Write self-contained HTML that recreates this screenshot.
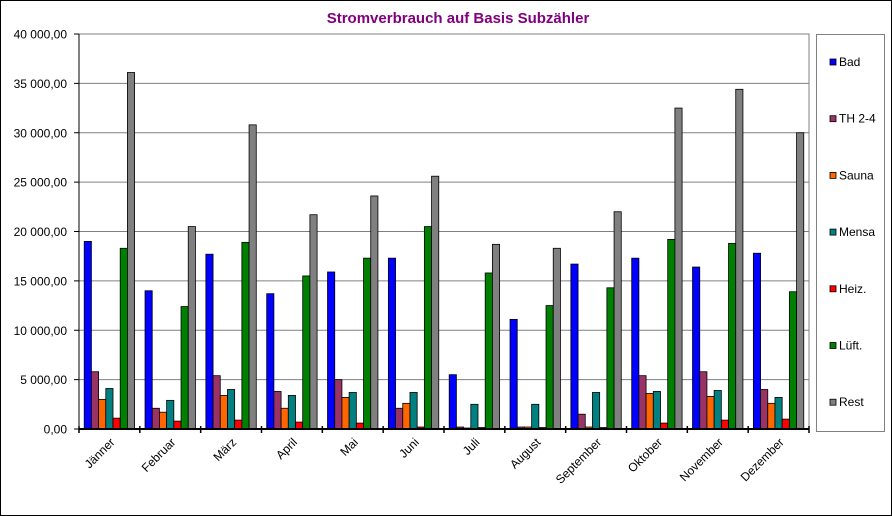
<!DOCTYPE html>
<html><head><meta charset="utf-8"><style>
html,body{margin:0;padding:0;background:#fff}
svg{display:block;font-family:"Liberation Sans",Arial,sans-serif}
</style></head><body>
<svg id="c" width="892" height="516" viewBox="0 0 892 516" xmlns="http://www.w3.org/2000/svg">
<rect x="0.5" y="0.5" width="891" height="515" fill="#fff" stroke="#000"/>
<text x="458" y="23" text-anchor="middle" font-size="15" font-weight="bold" fill="#800080">Stromverbrauch auf Basis Subzähler</text>
<g id="g"></g>
</svg>
<script>
var g=document.getElementById('g'),s='';
var X0=79,X1=809,Y0=429,H=395,gw=(X1-X0)/12;
function y(v){return Y0-v/40000*H;}
s+='<rect x="'+X0+'" y="34" width="'+(X1-X0)+'" height="'+H+'" fill="#fff" stroke="#808080"/>';
for(var i=0;i<=8;i++){var yy=y(i*5000);
 if(i>0&&i<8)s+='<line x1="'+X0+'" x2="'+X1+'" y1="'+yy+'" y2="'+yy+'" stroke="#808080"/>';
 s+='<line x1="'+(X0-5)+'" x2="'+X0+'" y1="'+yy+'" y2="'+yy+'" stroke="#000"/>';
 var lab=i==0?'0,00':(i*5)+' 000,00';
 s+='<text x="67" y="'+(yy+4.5)+'" text-anchor="end" font-size="12">'+lab+'</text>';}
var cols=['#0000FF','#993366','#FF6600','#008080','#FF0000','#008000','#808080'];
var names=['Bad','TH 2-4','Sauna','Mensa','Heiz.','Lüft.','Rest'];
var months=['Jänner','Februar','März','April','Mai','Juni','Juli','August','September','Oktober','November','Dezember'];
var d=[[19000,5800,3000,4100,1100,18300,36100],[14000,2100,1700,2900,800,12400,20500],[17700,5400,3400,4000,900,18900,30800],[13700,3800,2100,3400,700,15500,21700],[15900,5000,3200,3700,600,17300,23600],[17300,2100,2600,3700,200,20500,25600],[5500,200,100,2500,150,15800,18700],[11100,200,200,2500,150,12500,18300],[16700,1500,200,3700,150,14300,22000],[17300,5400,3600,3800,600,19200,32500],[16400,5800,3300,3900,900,18800,34400],[17800,4000,2600,3200,1000,13900,30000]];
var bw=7.2;
for(var m=0;m<12;m++){var gx=X0+m*gw+5.2;
 for(var k=0;k<7;k++){var v=d[m][k],t=y(v);
  s+='<rect x="'+(gx+k*bw)+'" y="'+t+'" width="'+bw+'" height="'+(Y0-t)+'" fill="'+cols[k]+'" stroke="#000" stroke-width="0.8"/>';}
 var tx=X0+m*gw;
 s+='<line x1="'+tx+'" x2="'+tx+'" y1="'+(Y0-3)+'" y2="'+(Y0+4)+'" stroke="#000" stroke-width="1.5"/>';
 var cx=tx+gw/2+6;
 s+='<text transform="translate('+cx+','+(Y0+14)+') rotate(-45)" text-anchor="end" font-size="12">'+months[m]+'</text>';}
s+='<line x1="'+X1+'" x2="'+X1+'" y1="'+(Y0-3)+'" y2="'+(Y0+4)+'" stroke="#000" stroke-width="1.5"/>';
s+='<line x1="'+X0+'" x2="'+X1+'" y1="'+Y0+'" y2="'+Y0+'" stroke="#000" stroke-width="2"/>';
s+='<line x1="'+X0+'" x2="'+X0+'" y1="34" y2="'+Y0+'" stroke="#000"/>';
s+='<rect x="816.5" y="34.5" width="68" height="397" fill="#fff" stroke="#808080"/>';
for(var k=0;k<7;k++){var ly=62+k*56.7;
 s+='<rect x="830" y="'+(ly-3)+'" width="6" height="6" fill="'+cols[k]+'" stroke="#000" stroke-width="0.8"/>';
 s+='<text x="839" y="'+(ly+4)+'" font-size="12">'+names[k]+'</text>';}
g.innerHTML=s;
</script>
</body></html>
